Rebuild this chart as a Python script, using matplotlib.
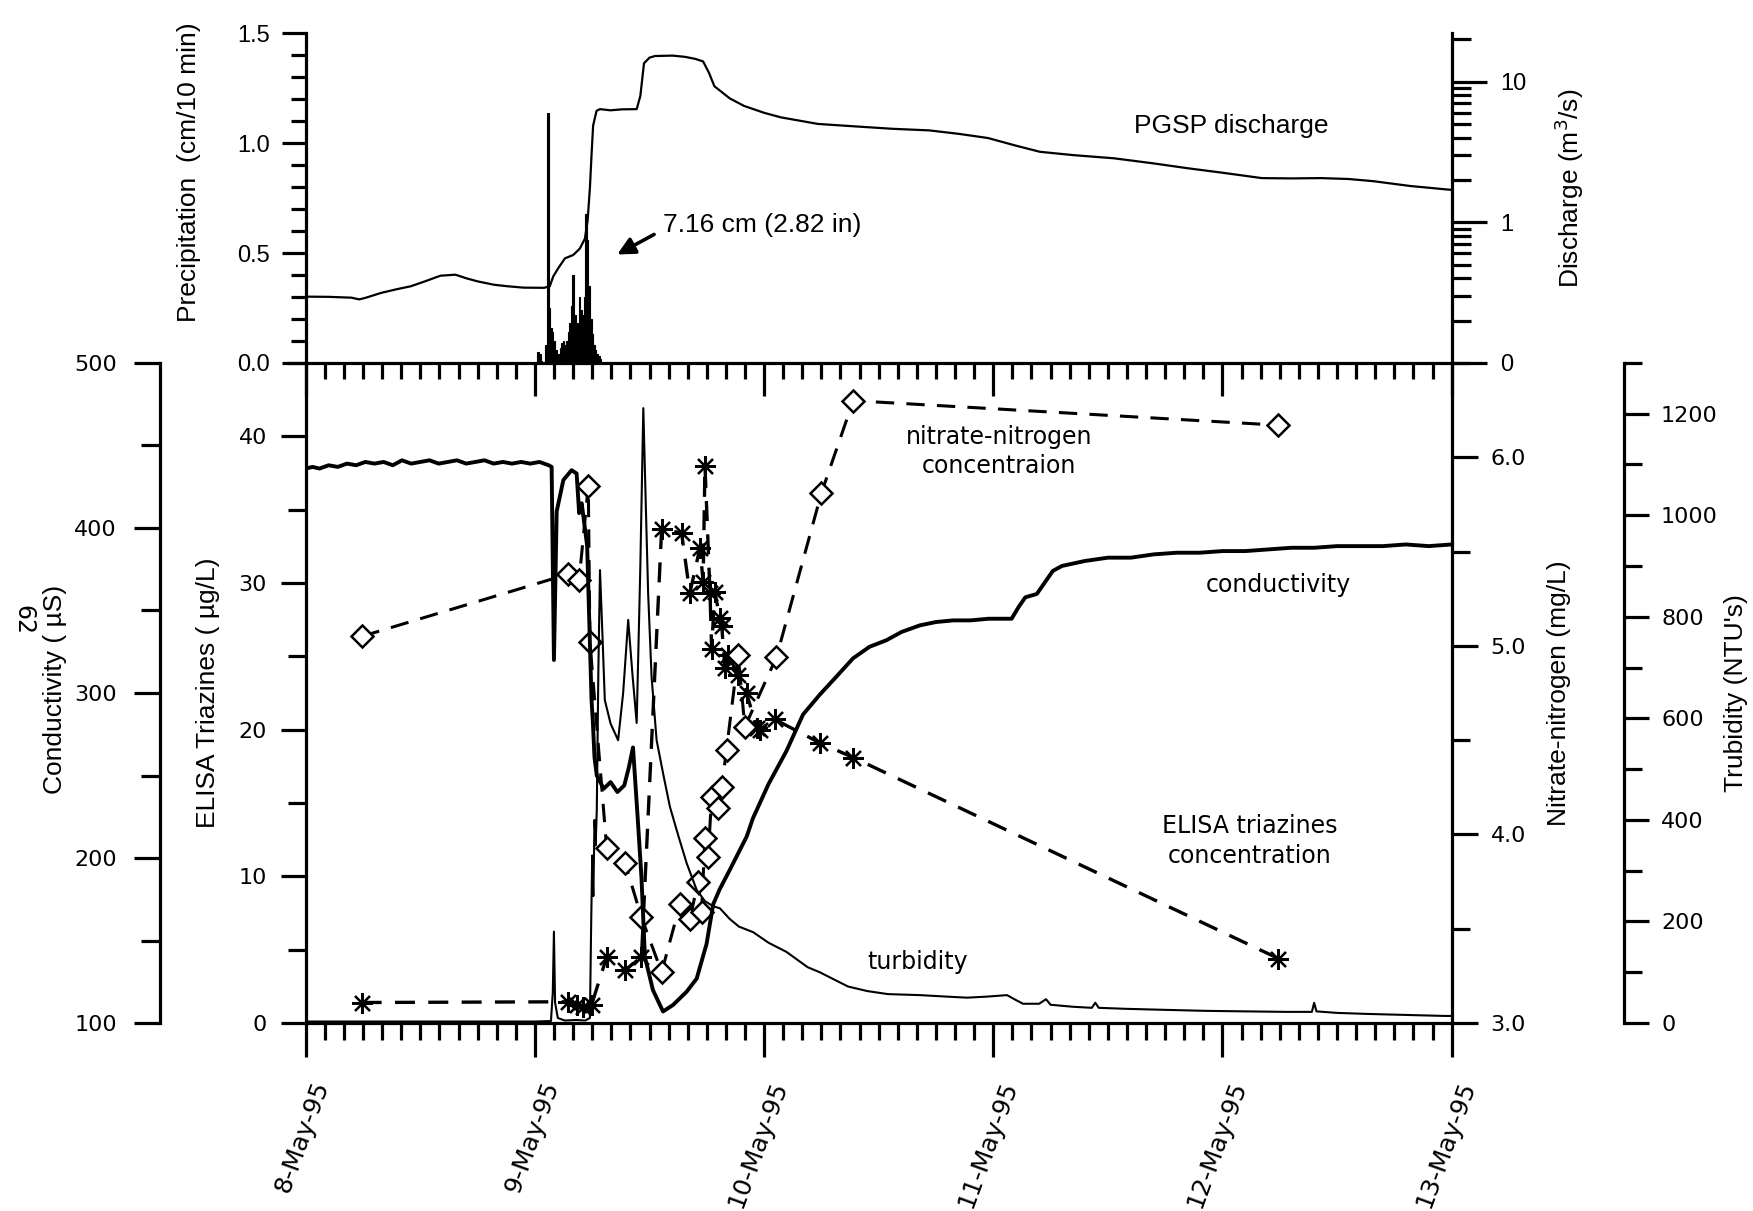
import datetime as dt
import matplotlib
matplotlib.use('Agg')
import matplotlib.pyplot as plt
import matplotlib.dates as mdates
from matplotlib.ticker import MultipleLocator, FixedLocator, FixedFormatter, FormatStrFormatter, NullFormatter
from matplotlib.transforms import ScaledTranslation

plt.rcParams['font.family'] = ['Liberation Sans', 'DejaVu Sans']

# all times are days after 8-May-95 00:00
base = mdates.date2num(dt.datetime(1995, 5, 8))

# PGSP discharge (m3/s)
q_day = [0.00, 0.10, 0.20, 0.233, 0.26, 0.33, 0.40, 0.459, 0.52, 0.588,
         0.653, 0.70, 0.75, 0.82, 0.879, 0.95, 1.040, 1.065, 1.080, 1.102,
         1.131, 1.167, 1.196, 1.218, 1.230, 1.240, 1.247, 1.254, 1.269, 1.284,
         1.330, 1.380, 1.444, 1.460, 1.476, 1.500, 1.524, 1.600, 1.654, 1.700,
         1.734, 1.760, 1.783, 1.850, 1.912, 2.000, 2.073, 2.235, 2.400, 2.558,
         2.720, 2.850, 2.977, 3.100, 3.203, 3.350, 3.526, 3.700, 3.849, 4.000,
         4.172, 4.300, 4.430, 4.550, 4.657, 4.820, 4.980, 5.000]
q_val = [0.296, 0.295, 0.291, 0.283, 0.290, 0.315, 0.335, 0.351, 0.380, 0.417,
         0.424, 0.400, 0.380, 0.360, 0.351, 0.343, 0.342, 0.351, 0.412, 0.472,
         0.554, 0.585, 0.650, 0.764, 1.03, 1.76, 3.0, 4.87, 6.2, 6.37,
         6.25, 6.35, 6.37, 7.9, 13.5, 14.8, 15.2, 15.3, 15.0, 14.5,
         13.9, 11.5, 9.27, 7.6, 6.72, 6.0, 5.57, 5.0, 4.8, 4.62,
         4.5, 4.25, 3.97, 3.5, 3.17, 3.0, 2.85, 2.62, 2.42, 2.25,
         2.06, 2.05, 2.06, 2.03, 1.96, 1.81, 1.71, 1.70]

# 10-minute precipitation (cm), first interval starts at rain_start
rain_start = 1.0145
rain_cm = [0.05, 0.04, 0.01, 0.0, 0.0, 0.08, 1.14, 0.25, 0.16, 0.14,
           0.10, 0.06, 0.03, 0.04, 0.07, 0.09, 0.10, 0.08, 0.10, 0.14,
           0.18, 0.26, 0.40, 0.22, 0.15, 0.18, 0.30, 0.24, 0.22, 0.30,
           0.68, 0.56, 0.35, 0.20, 0.13, 0.08, 0.06, 0.04, 0.03, 0.02]

# conductivity (uS)
cond_day = [0.00, 0.03, 0.06, 0.10, 0.14, 0.18, 0.22, 0.26, 0.30, 0.34,
            0.38, 0.42, 0.46, 0.50, 0.54, 0.58, 0.62, 0.66, 0.70, 0.74,
            0.78, 0.82, 0.86, 0.90, 0.94, 0.98, 1.02, 1.06,
            1.073, 1.083, 1.095, 1.124, 1.160, 1.182, 1.193, 1.204, 1.218, 1.228,
            1.240, 1.247, 1.253, 1.260, 1.270, 1.300, 1.330, 1.360, 1.390, 1.410,
            1.428, 1.450, 1.465, 1.480,
            1.515, 1.559, 1.603, 1.662, 1.706, 1.749, 1.778, 1.806, 1.851, 1.924,
            1.951, 2.020, 2.098, 2.170, 2.243, 2.316, 2.388, 2.460, 2.534, 2.600,
            2.680, 2.750, 2.825, 2.900, 2.980,
            3.080, 3.110, 3.140, 3.190, 3.220, 3.260, 3.300,
            3.40, 3.50, 3.60, 3.70, 3.80, 3.90, 4.00, 4.10, 4.20, 4.30,
            4.40, 4.50, 4.60, 4.70, 4.80, 4.90, 5.00]
cond_val = [436, 437, 436, 438, 437, 439, 438, 440, 439, 440,
            438, 441, 439, 440, 441, 439, 440, 441, 439, 440,
            441, 439, 440, 439, 440, 439, 440, 438,
            437, 320, 410, 429, 435, 433, 409, 415, 400, 389,
            330, 296, 282, 261, 250, 242, 246, 240, 244, 255,
            267, 221, 188, 140,
            120, 107, 111, 119, 127, 148, 172, 181, 193, 213,
            224, 245, 265, 287, 299, 310, 321, 328, 332, 337,
            341, 343, 344, 344, 345,
            345, 352, 358, 360, 366, 374, 377,
            380, 382, 382, 384, 385, 385, 386, 386, 387, 388,
            388, 389, 389, 389, 390, 389, 390]

# turbidity (NTU)
turb_day = [0.00, 0.50, 1.00,
            1.070, 1.078, 1.083, 1.088, 1.100, 1.130, 1.180, 1.220,
            1.240, 1.245, 1.250, 1.255, 1.260, 1.265, 1.270, 1.277, 1.284, 1.295,
            1.305, 1.330, 1.363, 1.385, 1.407, 1.425, 1.444, 1.460, 1.473, 1.485,
            1.494, 1.509, 1.531, 1.560, 1.589, 1.625, 1.662, 1.706, 1.742, 1.778,
            1.807, 1.850, 1.890, 1.952, 2.020, 2.098, 2.190, 2.243, 2.366, 2.450,
            2.540, 2.680, 2.800, 2.885, 2.970, 3.060, 3.100, 3.130, 3.200, 3.230,
            3.250, 3.350, 3.430, 3.445, 3.460, 3.580, 3.750, 3.930, 4.100, 4.280,
            4.390, 4.400, 4.410, 4.500, 4.630, 4.800, 4.970, 5.000]
turb_val = [3, 3, 3,
            4, 60, 180, 40, 10, 5, 6, 5,
            10, 180, 330, 250, 400, 350, 420, 700, 892, 760,
            636, 590, 557, 650, 794, 690, 591, 900, 1211, 1000,
            847, 682, 557, 490, 426, 370, 315, 262, 240, 230,
            226, 205, 190, 179, 158, 140, 110, 100, 72, 63,
            57, 55, 52, 50, 52, 55, 45, 38, 38, 47,
            36, 32, 30, 40, 30, 28, 26, 24, 23, 22,
            22, 40, 23, 20, 18, 16, 14, 14]

# ELISA triazines (ug/L), asterisks
elisa_day = [0.244, 1.145, 1.182, 1.211, 1.247, 1.313, 1.393, 1.465, 1.553, 1.640,
             1.676, 1.720, 1.734, 1.742, 1.764, 1.771, 1.785, 1.807, 1.815, 1.829,
             1.843, 1.887, 1.924, 1.967, 1.980, 2.047, 2.243, 2.389, 4.244]
elisa_val = [1.4, 1.45, 1.23, 1.11, 1.23, 4.5, 3.6, 4.5, 33.7, 33.4,
             29.3, 32.4, 30.1, 38.0, 29.3, 25.5, 29.4, 27.6, 27.1, 24.2,
             25.1, 23.7, 22.5, 20.1, 20.0, 20.7, 19.1, 18.1, 4.4]

# nitrate-nitrogen (mg/L), diamonds
no3_day = [0.244, 1.145, 1.193, 1.233, 1.240, 1.313, 1.393, 1.465, 1.553, 1.633,
           1.676, 1.712, 1.727, 1.742, 1.756, 1.771, 1.800, 1.815, 1.836, 1.887,
           1.916, 2.054, 2.250, 2.389, 4.244]
no3_val = [5.05, 5.38, 5.35, 5.85, 5.02, 3.93, 3.85, 3.56, 3.27, 3.63,
           3.55, 3.75, 3.59, 3.98, 3.88, 4.20, 4.14, 4.25, 4.45, 4.95,
           4.57, 4.94, 5.81, 6.30, 6.17]

date_labels = ['8-May-95', '9-May-95', '10-May-95', '11-May-95', '12-May-95', '13-May-95']

t = lambda days: [base + d for d in days]

fig = plt.figure(figsize=(17.53, 12.11), dpi=100)
L, W = 0.1744, 0.6537
ax_p = fig.add_axes([L, 0.7003, W, 0.2721])
ax_b = fig.add_axes([L, 0.1552, W, 0.5451])
ax_b.patch.set_visible(False)
ax_p.patch.set_visible(False)

SW = 2.3
xlim = (base, base + 5)

# ---- top panel: precipitation + discharge
rain_t = [base + rain_start + i / 144.0 for i in range(len(rain_cm))]
ax_p.bar(rain_t, rain_cm, width=1 / 144.0, color='black', edgecolor='black', lw=0.8)
ax_p.set_xlim(xlim)
ax_p.set_ylim(0, 1.5)
ax_p.yaxis.set_major_locator(MultipleLocator(0.5))
ax_p.yaxis.set_minor_locator(MultipleLocator(0.1))
ax_p.yaxis.set_major_formatter(FormatStrFormatter('%.1f'))
ax_p.xaxis.set_major_locator(MultipleLocator(1))
ax_p.xaxis.set_minor_locator(MultipleLocator(1 / 12.0))
ax_p.xaxis.set_major_formatter(NullFormatter())
ax_p.tick_params(axis='y', which='major', direction='out', length=17, width=SW, pad=9, labelsize=17)
ax_p.tick_params(axis='y', which='minor', direction='out', length=11, width=SW)
ax_p.tick_params(axis='x', which='major', direction='out', length=24, width=SW, labelbottom=False)
ax_p.tick_params(axis='x', which='minor', direction='out', length=11.5, width=SW)
for s in ['top', 'right']:
    ax_p.spines[s].set_visible(False)
for s in ['left', 'bottom']:
    ax_p.spines[s].set_linewidth(SW)
ax_p.set_ylabel('Precipitation  (cm/10 min)', fontsize=19)
ax_p.yaxis.set_label_coords(-0.091, 0.58)

ax_q = ax_p.twinx()
ax_q.plot(t(q_day), q_val, color='black', lw=1.6)
ax_q.set_yscale('log')
ax_q.set_ylim(0.1, 22)
ax_q.set_xlim(xlim)
ax_q.yaxis.set_major_locator(FixedLocator([0.1, 1, 10]))
ax_q.yaxis.set_major_formatter(FixedFormatter(['0', '1', '10']))
ax_q.yaxis.set_minor_locator(FixedLocator([0.2, 0.3, 0.4, 0.5, 0.6, 0.7, 0.8, 0.9,
                                           2, 3, 4, 5, 6, 7, 8, 9, 20]))
ax_q.yaxis.set_minor_formatter(NullFormatter())
ax_q.tick_params(axis='y', which='major', direction='out', length=25, width=SW, pad=10, labelsize=17)
ax_q.tick_params(axis='y', which='minor', direction='out', length=14, width=SW)
for s in ['top', 'left', 'bottom']:
    ax_q.spines[s].set_visible(False)
ax_q.spines['right'].set_linewidth(SW)
ax_q.set_ylabel('Discharge (m$^3$/s)', fontsize=19)
ax_q.yaxis.set_label_coords(1.088, 0.53)

ax_p.text(0.808, 0.719, 'PGSP discharge', transform=ax_p.transAxes, fontsize=19,
          ha='center', va='center')
ax_p.text(0.312, 0.42, '7.16 cm (2.82 in)', transform=ax_p.transAxes, fontsize=19,
          ha='left', va='center')
ax_p.annotate('', xy=(0.2718, 0.329), xytext=(0.304, 0.39), xycoords='axes fraction',
              arrowprops=dict(arrowstyle='-|>', lw=2.6, color='black', mutation_scale=26,
                              shrinkA=0, shrinkB=0))

# ---- bottom panel
dash = (0, (6, 4))
ax_b.plot(t(elisa_day), elisa_val, color='black', ls=dash, lw=2.4,
          marker=(8, 2, 0), ms=15, mew=1.6)
ax_b.set_xlim(xlim)
ax_b.set_ylim(0, 45)
ax_b.yaxis.set_major_locator(MultipleLocator(10))
ax_b.yaxis.set_minor_locator(MultipleLocator(5))
ax_b.set_xticks([base + i for i in range(6)], labels=date_labels)
ax_b.xaxis.set_minor_locator(MultipleLocator(1 / 12.0))
ax_b.tick_params(axis='y', which='major', direction='out', length=18, width=SW, pad=10,
                 labelsize=16, labelfontfamily='DejaVu Sans')
ax_b.tick_params(axis='y', which='minor', direction='out', length=13, width=SW)
ax_b.tick_params(axis='x', which='major', direction='out', length=24.5, width=SW, pad=18,
                 labelsize=18, labelfontfamily='DejaVu Sans')
ax_b.tick_params(axis='x', which='minor', direction='out', length=12, width=SW)
off = ScaledTranslation(12 / 72.0, 0, fig.dpi_scale_trans)
for lbl in ax_b.get_xticklabels():
    lbl.set_rotation(70)
    lbl.set_ha('right')
    lbl.set_va('center')
    lbl.set_rotation_mode('anchor')
    lbl.set_transform(lbl.get_transform() + off)
for s in ['top', 'right']:
    ax_b.spines[s].set_visible(False)
for s in ['left', 'bottom']:
    ax_b.spines[s].set_linewidth(SW)
ax_b.set_ylabel('ELISA Triazines ( \u00b5g/L)', fontsize=19)
ax_b.yaxis.set_label_coords(-0.075, 0.5)

ax_n = ax_b.twinx()
ax_n.plot(t(no3_day), no3_val, color='black', ls=dash, lw=2.2,
          marker='D', ms=11, mfc='white', mec='black', mew=1.8)
ax_n.set_ylim(3.0, 6.5)
ax_n.set_xlim(xlim)
ax_n.yaxis.set_major_locator(MultipleLocator(1.0))
ax_n.yaxis.set_minor_locator(MultipleLocator(0.5))
ax_n.yaxis.set_major_formatter(FormatStrFormatter('%.1f'))
ax_n.tick_params(axis='y', which='major', direction='out', length=19, width=SW, pad=9,
                 labelsize=16, labelfontfamily='DejaVu Sans')
ax_n.tick_params(axis='y', which='minor', direction='out', length=13, width=SW)
for s in ['top', 'left', 'bottom']:
    ax_n.spines[s].set_visible(False)
ax_n.spines['right'].set_linewidth(SW)
ax_n.set_ylabel('Nitrate-nitrogen (mg/L)', fontsize=19)
ax_n.yaxis.set_label_coords(1.083, 0.5)

ax_c = ax_b.twinx()
ax_c.plot(t(cond_day), cond_val, color='black', lw=2.8)
ax_c.set_ylim(100, 500)
ax_c.set_xlim(xlim)
ax_c.yaxis.tick_left()
ax_c.yaxis.set_label_position('left')
ax_c.spines['left'].set_position(('axes', -0.1272))
ax_c.spines['left'].set_visible(True)
ax_c.spines['left'].set_linewidth(SW)
for s in ['top', 'right', 'bottom']:
    ax_c.spines[s].set_visible(False)
ax_c.yaxis.set_major_locator(MultipleLocator(100))
ax_c.yaxis.set_minor_locator(MultipleLocator(50))
ax_c.tick_params(axis='y', which='major', direction='out', length=19, width=SW, pad=12,
                 labelsize=16, labelfontfamily='DejaVu Sans')
ax_c.tick_params(axis='y', which='minor', direction='out', length=14, width=SW)
ax_c.set_ylabel('Conductivity ( \u00b5S)', fontsize=19)
ax_c.yaxis.set_label_coords(-0.208, 0.505)

ax_t = ax_b.twinx()
ax_t.plot(t(turb_day), turb_val, color='black', lw=1.5)
ax_t.set_ylim(0, 1300)
ax_t.set_xlim(xlim)
ax_t.spines['right'].set_position(('axes', 1.150))
ax_t.spines['right'].set_linewidth(SW)
for s in ['top', 'left', 'bottom']:
    ax_t.spines[s].set_visible(False)
ax_t.yaxis.set_major_locator(MultipleLocator(200))
ax_t.yaxis.set_minor_locator(MultipleLocator(100))
ax_t.tick_params(axis='y', which='major', direction='out', length=18, width=SW, pad=9,
                 labelsize=16, labelfontfamily='DejaVu Sans')
ax_t.tick_params(axis='y', which='minor', direction='out', length=13, width=SW)
ax_t.set_ylabel("Trubidity (NTU's)", fontsize=19)
ax_t.yaxis.set_label_coords(1.238, 0.5)

tk = dict(transform=ax_b.transAxes, fontsize=17, ha='center', va='center',
          family='DejaVu Sans', linespacing=1.3)
ax_b.text(0.605, 0.866, 'nitrate-nitrogen\nconcentraion', **tk)
ax_b.text(0.849, 0.664, 'conductivity', **tk)
ax_b.text(0.824, 0.276, 'ELISA triazines\nconcentration', **tk)
ax_b.text(0.534, 0.093, 'turbidity', **tk)

fig.text(23 / 1753.0, 1 - 620 / 1211.0, '62', rotation=-90, fontsize=17,
         ha='center', va='center', family='DejaVu Sans')

fig.savefig('out.png', dpi=100)
